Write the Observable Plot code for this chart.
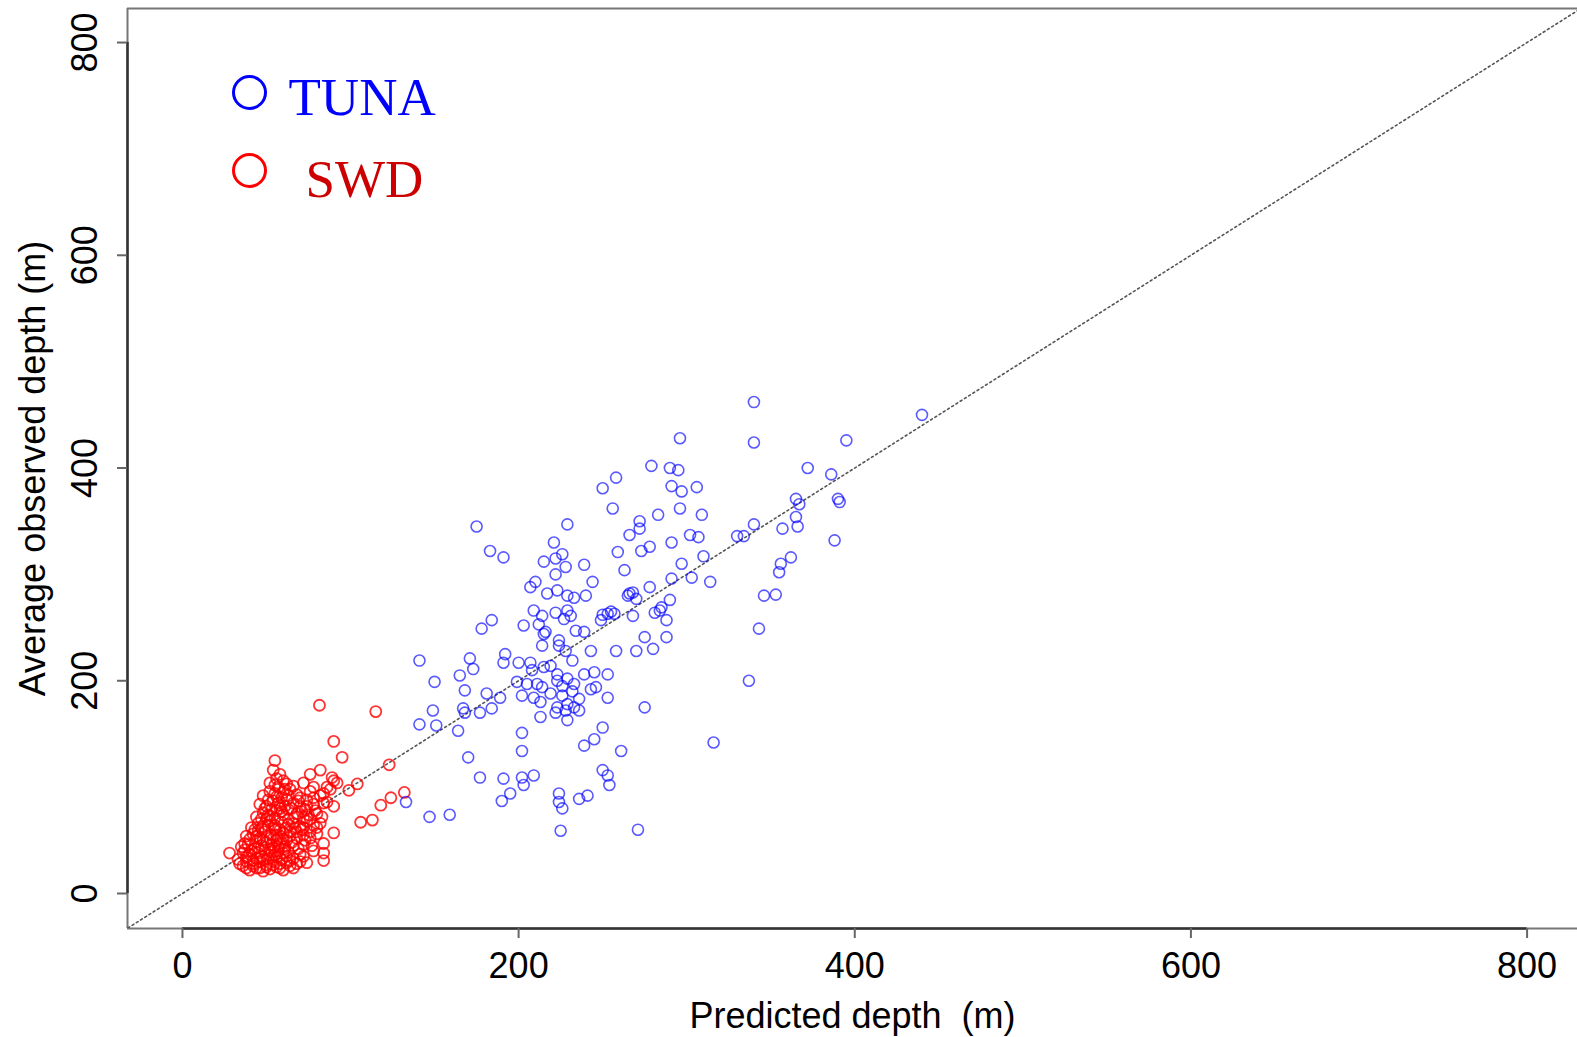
<!DOCTYPE html>
<html><head><meta charset="utf-8">
<script src="https://cdn.jsdelivr.net/npm/d3@7"></script>
<script src="https://cdn.jsdelivr.net/npm/@observablehq/plot@0.6"></script>
<style>html,body{margin:0;padding:0;background:#fff;overflow:hidden}</style>
</head><body><div id="chart"></div>
<script>
// TUNA: predicted depth (m) vs average observed depth (m)
const tunaPred = [440,340,340,296,395,372,386,279,290,295,
258,250,291,297,306,256,296,283,309,272,
272,266,365,367,390,391,340,365,366,357,
330,334,388,229,278,273,259,291,302,307,
310,297,362,356,355,263,244,291,303,314,
239,278,266,270,290,346,353,284,281,268,
288,253,249,255,250,343,175,183,191,221,
215,226,222,228,222,210,207,217,223,229,
233,240,268,265,285,209,214,212,203,222,
229,231,227,184,178,216,234,239,275,288,
224,215,214,224,228,232,243,258,270,280,
171,173,192,191,200,207,208,215,219,165,
150,199,205,211,214,223,223,229,239,245,
253,233,243,246,168,181,189,202,209,213,
226,236,233,253,167,168,177,184,223,228,
236,213,222,229,275,164,149,141,151,141,
202,202,250,245,239,261,170,177,191,202,
209,203,195,190,250,253,254,224,224,226,
236,241,159,147,133,225,271,316,337,257,
226,232,229,219];
const tunaObs = [450,462,424,428,426,400,394,402,400,398,
391,381,383,378,382,362,362,356,356,350,
343,337,371,366,371,368,347,354,345,343,
336,336,332,347,326,322,321,330,337,335,
317,310,316,310,302,304,293,296,297,293,
309,288,282,277,276,280,281,266,264,261,
257,263,257,265,262,249,345,322,316,330,
312,319,315,307,300,293,288,282,285,280,
278,280,283,280,269,266,261,253,252,264,
266,261,258,257,249,246,247,246,241,241,
238,244,233,233,228,219,228,228,228,230,
221,211,225,217,217,217,210,213,214,205,
199,199,197,197,194,206,200,202,206,208,
206,197,192,194,191,188,184,186,184,180,
186,183,175,184,174,170,170,174,175,172,
172,166,170,163,175,153,172,159,158,219,
151,134,156,145,139,134,128,109,108,109,
111,102,94,87,116,111,102,94,86,80,
89,92,74,72,86,59,60,142,200,263,
195,190,178,188];

// SWD: predicted depth (m) vs average observed depth (m)
const swdPred = [81.5,115,90,95,55,123,82,76,89,90,104,99,132,124,118,106,113,90,84,84,28,74,84,37,
40,44,48,52,56,60,36,42,50,58,64,68,46,54,38,
33,38,42,47,51,55,59,62,66,70,45,53,57,63,36,40,
35,39,43,47,50,54,58,61,65,69,72,44,52,56,62,
38,42,46,49,53,57,60,64,68,72,76,80,55,45,
41,45,48,52,55,59,62,66,70,74,78,82,50,
44,48,52,56,60,63,67,71,75,79,83,58,
46,50,54,58,62,66,70,74,78,86,90,
48,52,56,60,64,68,76,82,88,
52,56,58,62,54,60,72,78,86,92,84,
38,42,46,50,54,58,62,34,44,48,52,56,60,64,
37,41,45,49,53,57,61,66,40,44,48,52,56,60,64,68,
43,47,51,55,58,63,67,71,47,51,55,59,63,68,72,
49,53,57,61,65,69,73,51,55,59,63,57,61,66,55,
72,76,80,74,78,84,70,80,76,73,77,70,66,72,78];
const swdObs = [177,171,143,128,125,121,116,112,109,106,103,97,95,90,83,67,69,57,47,38,38,29,31,47,
22,24,21,23,25,22,26,28,27,28,26,28,30,30,24,
32,34,31,35,33,36,32,35,33,37,38,39,40,39,38,37,
44,46,42,45,48,43,47,44,48,42,46,49,41,50,50,
54,56,52,58,55,52,57,54,58,55,52,56,60,59,
62,66,63,68,64,67,62,66,63,68,64,66,70,
72,76,73,78,74,79,72,77,74,78,72,80,
84,82,87,83,88,85,82,88,84,86,82,
92,96,91,95,98,93,96,92,98,
104,108,112,103,116,106,104,100,100,104,94,
30,26,24,25,27,24,29,28,33,32,36,34,38,31,
41,40,43,41,46,44,42,45,51,54,50,52,55,51,58,52,
60,61,64,62,60,65,61,60,70,74,71,77,70,75,71,
80,79,85,82,80,87,79,88,94,90,92,100,98,101,102,
62,70,75,82,90,85,90,62,58,50,45,30,24,35,40];

const xTicks = [0, 200, 400, 600, 800];
const yTicks = [0, 200, 400, 600, 800];
const xDomain = [-32.7, 830];
const yDomain = [-32.9, 832];
const diagonal = [-40, 840];
const legendLabels = ["TUNA", "SWD"];
const xLabel = "Predicted depth\u00a0 (m)";
const yLabel = "Average observed depth (m)";

const tuna = tunaPred.map((x, i) => ({x, y: tunaObs[i]}));
const swd = swdPred.map((x, i) => ({x, y: swdObs[i]}));

const sans = "'Liberation Sans', Arial, Helvetica, sans-serif";
const serif = "'Liberation Serif', 'Times New Roman', serif";

const chart = Plot.plot({
  width: 1577, height: 1037,
  marginLeft: 127, marginRight: 0, marginTop: 8, marginBottom: 109,
  x: {domain: xDomain},
  y: {domain: yDomain},
  style: {fontFamily: sans, background: "#fff", color: "#000"},
  marks: [
    // box
    Plot.ruleY([yDomain[1]], {stroke: "#777", strokeWidth: 2}),
    Plot.ruleY([yDomain[0]], {stroke: "#777", strokeWidth: 2}),
    Plot.ruleX([xDomain[0]], {stroke: "#777", strokeWidth: 2}),
    // axis lines from first to last tick
    Plot.ruleY([yDomain[0]], {x1: xTicks[0], x2: xTicks[xTicks.length - 1], stroke: "#333", strokeWidth: 2.5}),
    Plot.ruleX([xDomain[0]], {y1: yTicks[0], y2: yTicks[yTicks.length - 1], stroke: "#333", strokeWidth: 2.5}),
    Plot.axisX({ticks: xTicks, tickSize: 10, tickPadding: 14, fontSize: 36, stroke: "#666", strokeWidth: 2, label: null}),
    Plot.axisY({ticks: yTicks, tickSize: 10, tickFormat: () => "", stroke: "#666", strokeWidth: 2, label: null}),
    Plot.text(yTicks, {y: d => d, frameAnchor: "left", dx: -42, rotate: -90, text: d => String(d),
      fontSize: 36, textAnchor: "middle", lineAnchor: "middle", fill: "#000"}),
    // axis titles
    Plot.text([xLabel], {frameAnchor: "bottom", dy: 88, fontSize: 36, textAnchor: "middle", lineAnchor: "middle", fill: "#000"}),
    Plot.text([yLabel], {frameAnchor: "left", dx: -94, rotate: -90, fontSize: 36, textAnchor: "middle", lineAnchor: "middle", fill: "#000"}),
    // 1:1 line
    Plot.line(diagonal, {x: d => d, y: d => d, stroke: "#555", strokeWidth: 1.6, strokeDasharray: "2,3", clip: true}),
    // data
    Plot.dot(swd, {x: "x", y: "y", r: 5.5, stroke: "#ff0000", strokeWidth: 1.8, strokeOpacity: 0.8, fill: "none"}),
    Plot.dot(tuna, {x: "x", y: "y", r: 5.5, stroke: "#0000ff", strokeWidth: 1.6, strokeOpacity: 0.65, fill: "none"}),
    // legend
    Plot.dot([legendLabels[0]], {frameAnchor: "top-left", dx: 122, dy: 84, r: 16, stroke: "#0000ff", strokeWidth: 3, fill: "none"}),
    Plot.dot([legendLabels[1]], {frameAnchor: "top-left", dx: 122, dy: 162, r: 16, stroke: "#ff0000", strokeWidth: 3, fill: "none"}),
    Plot.text([legendLabels[0]], {frameAnchor: "top-left", dx: 161, dy: 90, text: d => d, fontSize: 53,
      fontFamily: serif, fill: "#0000ff", textAnchor: "start", lineAnchor: "middle"}),
    Plot.text([legendLabels[1]], {frameAnchor: "top-left", dx: 178, dy: 172, text: d => d, fontSize: 53,
      fontFamily: serif, fill: "#cc0000", textAnchor: "start", lineAnchor: "middle"})
  ]
});
document.getElementById("chart").appendChild(chart);
</script>
</body></html>
